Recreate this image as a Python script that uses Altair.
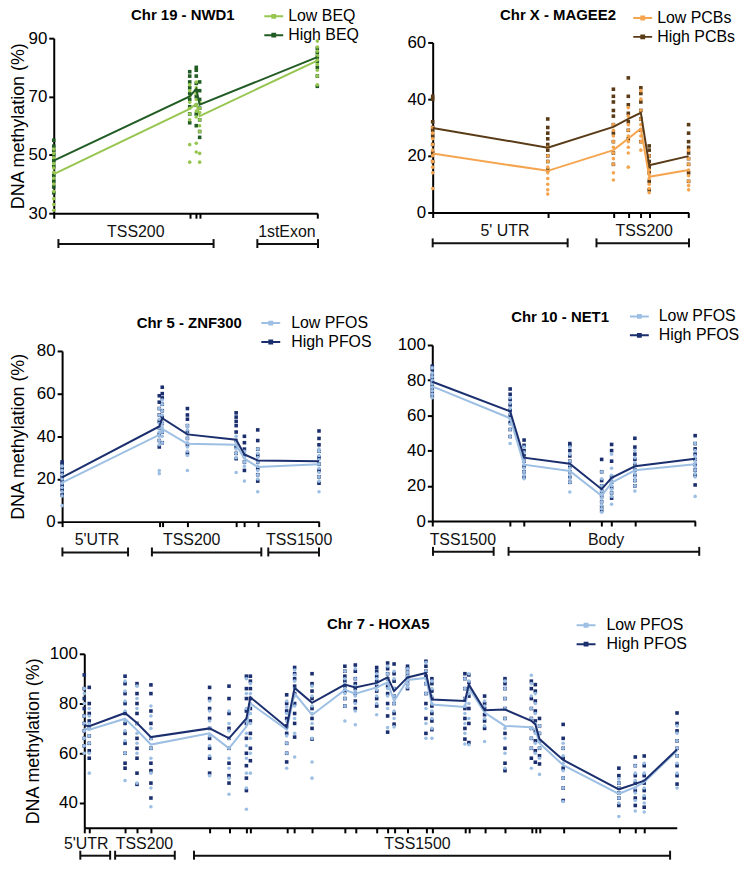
import altair as alt
import pandas as pd

FONT = "Liberation Sans"
YTITLE = "DNA methylation (%)"

# ---------------- Chr 19 - NWD1 ----------------
NWD1_GROUPS = ["Low BEQ", "High BEQ"]
NWD1_COLORS = ["#97c650", "#215c24"]
NWD1_POS = [0, 136.7, 143.3, 146.7, 265]
NWD1_LOW_MEAN = [43.4, 65.8, 67.5, 63.3, 82.3]
NWD1_HIGH_MEAN = [48.0, 70.0, 72.6, 67.2, 83.5]
NWD1_LOW_PTS = [
    [31, 33, 35, 37.5, 40, 42, 44, 45.5, 47, 49, 50.5, 52],
    [47.5, 53.5, 62, 64, 66, 68, 70, 72, 74],
    [51, 54, 63, 65, 67, 69, 71, 73, 75],
    [47.5, 50.5, 58, 60, 62, 64.5, 66, 68],
    [74, 77, 79, 81, 82.5, 84, 85.5, 87, 89],
]
NWD1_HIGH_PTS = [
    [37, 39, 41, 43, 46, 48, 50, 51.5, 53, 55],
    [61, 64, 66.5, 69, 71, 73, 75, 77, 78.5],
    [60, 64, 67, 70, 72, 74.5, 77, 79, 80],
    [56, 58, 62, 66, 69, 72, 75],
    [73.5, 77, 80, 82, 83.5, 85, 86.5],
]
NWD1_REGIONS = ["TSS200", "1stExon"]
NWD1_REG_START = [4.7, 204.7]
NWD1_REG_END = [160.7, 265.7]
NWD1_REG_LABEL = [82.5, 234.4]

# ---------------- Chr X - MAGEE2 ----------------
MAGEE2_GROUPS = ["Low PCBs", "High PCBs"]
MAGEE2_COLORS = ["#f5a54f", "#5a3b17"]
MAGEE2_POS = [0, 115.7, 181.7, 196.7, 209.3, 217.7, 257.3]
MAGEE2_LOW_MEAN = [20.8, 14.7, 22.0, 26.1, 29.6, 12.6, 15.0]
MAGEE2_HIGH_MEAN = [29.8, 22.9, 30.2, 33.0, 35.2, 16.7, 19.9]
MAGEE2_LOW_PTS = [
    [8.5, 14, 16, 18, 20, 22, 24, 26, 28, 30],
    [6.5, 8, 10, 12, 14, 16, 18, 20, 23],
    [11.5, 14, 17, 19, 21, 23, 25, 27, 29, 31],
    [16, 21, 23, 25, 27, 29, 31, 34, 37],
    [22, 25, 27, 29, 31, 33, 36, 40, 43],
    [7, 8.5, 10, 12, 13.5, 15, 17, 20],
    [8, 9.5, 11, 13, 15, 17, 19, 22],
]
MAGEE2_HIGH_PTS = [
    [18, 21, 24, 27, 29, 30, 32, 40, 41],
    [15, 18, 20, 22, 24, 26, 28, 30, 33],
    [17, 21, 25, 28, 31, 34, 36, 39, 41, 43.5],
    [26, 29, 32, 35, 38, 41, 47.5],
    [25, 29, 33, 36, 39, 42, 44],
    [8, 11, 14, 16, 18, 20, 22, 23.5],
    [11, 14, 17, 19, 21, 23, 25, 28, 31],
]
MAGEE2_REGIONS = ["5' UTR", "TSS200"]
MAGEE2_REG_START = [0, 164.7]
MAGEE2_REG_END = [135.7, 257.7]
MAGEE2_REG_LABEL = [72.7, 212.7]

# ---------------- Chr 5 - ZNF300 ----------------
PFOS_GROUPS = ["Low PFOS", "High PFOS"]
PFOS_COLORS = ["#9dbfe3", "#1b2f6e"]
ZNF300_POS = [0, 97.7, 100.7, 126, 175, 183.3, 196.7, 258.3]
ZNF300_LOW_MEAN = [18.3, 40.7, 43.5, 36.5, 36.0, 29.5, 25.6, 26.9]
ZNF300_HIGH_MEAN = [20.7, 44.6, 48.5, 40.9, 38.4, 31.5, 28.7, 28.3]
ZNF300_LOW_PTS = [
    [7.5, 12, 14, 16, 18, 20, 22, 24, 26],
    [22.5, 24, 36, 38, 40, 42, 44, 46, 48, 50, 53],
    [37, 40, 42, 44, 46, 48, 50, 52, 55, 57],
    [24, 31, 33, 35, 37, 39, 41, 43, 45],
    [23, 30, 32, 34, 36, 38, 40],
    [19, 26, 28, 30, 32, 33],
    [14, 20, 22, 24, 26, 28, 30, 32, 34],
    [14, 19, 21, 23, 25, 27, 29, 31, 33, 34],
]
ZNF300_HIGH_PTS = [
    [12.5, 15, 17, 19, 21, 23, 25, 27, 28],
    [35, 38, 41, 44, 47, 50, 53, 56, 59],
    [37, 42, 46, 49, 52, 55, 58, 60, 63],
    [32, 36, 39, 42, 45, 48, 50, 53],
    [29.5, 32, 35, 38, 42, 45, 47, 49, 51],
    [24, 28, 31, 34, 37, 40],
    [19, 22, 25, 28, 31, 34, 38, 43],
    [18, 21, 24, 27, 30, 33, 36, 39, 42.5],
]
ZNF300_REGIONS = ["5'UTR", "TSS200", "TSS1500"]
ZNF300_REG_START = [0.3, 90.3, 207.3]
ZNF300_REG_END = [66.3, 200.3, 258.3]
ZNF300_REG_LABEL = [35, 130.3, 238.3]

# ---------------- Chr 10 - NET1 ----------------
NET1_POS = [0, 78.3, 92.3, 138.3, 170.3, 180.3, 203.7, 264.3]
NET1_LOW_MEAN = [76.5, 58.4, 32.0, 28.4, 14.3, 21.8, 28.8, 32.2]
NET1_HIGH_MEAN = [79.1, 62.3, 36.0, 32.6, 18.1, 24.5, 31.1, 35.4]
NET1_LOW_PTS = [
    [70, 72, 74, 76, 78, 80, 82, 84, 87],
    [44, 48, 52, 55, 58, 61, 64, 67, 70],
    [24, 26, 28, 30, 32, 34, 36, 39, 42],
    [16.5, 22, 24, 26, 28, 30, 32, 34, 38, 42],
    [5, 7, 9, 11, 13, 15, 17, 20, 24, 28],
    [9.5, 14, 16, 18, 20, 22, 24, 26, 30, 38],
    [17, 20, 23, 25, 27, 29, 31, 33, 36, 40],
    [14, 25, 27, 29, 31, 33, 35, 37, 40, 44],
]
NET1_HIGH_PTS = [
    [71, 73, 75, 77, 79, 81, 83, 86, 88],
    [48, 52, 56, 60, 63, 66, 69, 72, 75],
    [25, 28, 31, 34, 37, 40, 43, 46],
    [22, 25, 28, 31, 34, 37, 40, 43, 44],
    [6, 8, 11, 14, 17, 20, 23, 28, 35],
    [13, 16, 19, 22, 25, 34, 40, 43.5],
    [20, 23, 26, 29, 32, 35, 38, 42, 47],
    [20.5, 26, 29, 32, 35, 38, 41, 44, 48.5],
]
NET1_REGIONS = ["TSS1500", "Body"]
NET1_REG_START = [0.7, 76.7]
NET1_REG_END = [61.7, 268.4]
NET1_REG_LABEL = [30.7, 174.7]

# ---------------- Chr 7 - HOXA5 ----------------
HOXA5_POS = [0, 5, 41, 53, 67, 126, 145.5, 163, 167, 203.5, 211.5, 229, 262, 272.5,
             294, 305, 311.5, 325, 343.5, 349.5, 382.7, 386.7, 402.5, 423, 449.5,
             453.5, 457.7, 481.5, 537.5, 554, 563, 596]
HOXA5_LOW_MEAN = [70, 69.5, 73.9, 69.3, 63.5, 68, 62, 70.7, 80, 69.5, 84, 75.4, 85.5,
                  84, 86.5, 88.5, 81, 89.5, 90.3, 79.6, 78.6, 86.3, 76.4, 71, 70.5,
                  69.5, 64, 55.2, 43.7, 46.4, 48.4, 61]
HOXA5_HIGH_MEAN = [71.3, 70.9, 76.2, 72.2, 66.5, 70, 66, 74, 82.5, 70.5, 86.3, 80.3,
                   87.6, 86.5, 88.3, 90.5, 85, 90.5, 92.3, 81.6, 81, 87.6, 77.3, 77.6,
                   73, 71.7, 65.7, 57.3, 45.5, 47.7, 49, 61.5]
HOXA5_HIGH_PTS = [
    [63, 66, 69, 72, 75, 78, 82, 86, 91.5],
    [58, 61, 64, 67, 70, 73, 76, 80, 86.5],
    [54, 56, 60, 64, 68, 72, 76, 80, 84, 88, 91],
    [47.5, 52, 58, 62, 66, 72, 76, 80, 84, 88],
    [42, 48, 53, 56, 62, 66, 72, 77, 84, 87.5],
    [52, 58, 62, 66, 70, 74, 78, 82, 86.5],
    [48, 51, 56, 62, 66, 70, 76, 82, 87],
    [45, 50, 55, 60, 66, 72, 77, 82, 86, 91],
    [57, 62, 68, 73, 78, 82, 86, 89, 91],
    [56.5, 60, 64, 68, 71, 74, 77, 80, 83.5],
    [66.5, 72, 76, 80, 84, 87, 90, 92, 94.5],
    [65.7, 70, 74, 78, 82, 85, 88, 92],
    [79, 82, 85, 87, 89, 91, 93, 95],
    [78, 81, 84, 86, 88, 90, 93, 95.5],
    [79, 82, 85, 87, 89, 91, 93, 94.5],
    [68.5, 75, 80, 84, 87, 90, 92, 94, 96.3],
    [71.7, 76, 80, 83, 86, 89, 92, 95.9],
    [86, 88, 89.5, 91, 92.5, 94, 95],
    [68, 74, 80, 84, 88, 91, 93, 95, 97],
    [69.5, 73, 76, 79, 82, 85, 88, 90],
    [65.7, 70, 74, 78, 82, 86, 90, 92],
    [64.3, 72, 78, 83, 86, 88.5, 91.5],
    [70, 73, 75.5, 78, 80, 83],
    [53, 56, 62, 68, 74, 78, 82, 86, 88, 90],
    [58, 62, 66, 70, 74, 78, 82, 86, 89],
    [56.4, 61, 65, 69, 73, 77, 81, 85, 87.6],
    [55.7, 59, 62, 65, 68, 71, 74],
    [41, 46, 50, 54, 58, 62, 66, 71.6],
    [39, 42, 44, 46, 48, 51, 54],
    [39, 42, 45, 48, 51, 55, 58.5],
    [38.3, 42, 45, 48, 51, 55, 58.9],
    [47.6, 51, 55, 59, 62, 65, 69, 72, 76.2],
]
HOXA5_LOW_PTS = [
    [60, 63, 66, 69, 72, 75, 80, 84, 86],
    [52, 60, 64, 67, 70, 72, 75, 78],
    [49, 60, 65, 69, 73, 77, 81, 85, 89],
    [48, 60, 64, 68, 72, 78, 82, 87],
    [38.5, 46, 52, 58, 62, 66, 70, 75, 79],
    [51, 59, 63, 67, 70, 73, 77, 81],
    [43.5, 50, 54, 58, 62, 66, 69, 72, 77],
    [37.5, 46, 52, 58, 63, 68, 73, 78, 84, 90],
    [52, 60, 66, 72, 76, 80, 84, 88],
    [54, 60, 64, 67, 70, 73, 76, 78.5, 81],
    [58.5, 68, 74, 79, 83, 86, 89, 91.5, 93.5],
    [50, 56.5, 66, 72, 76, 79, 83, 87],
    [73, 79, 82, 84, 86, 88, 90, 93],
    [71.5, 77, 80, 83, 85, 87, 90, 94],
    [75.5, 80, 83, 85.5, 88, 90, 92],
    [70.3, 78, 83, 86, 88, 90, 92, 95],
    [70.6, 74, 77, 80, 83, 86, 90, 93],
    [86.5, 88, 89.5, 91, 92.5, 94],
    [66, 72, 78, 84, 88, 90, 93, 96.5],
    [66, 70, 74, 77, 80, 83, 86, 89],
    [63.7, 68, 72, 76, 79, 82, 86, 90],
    [63.4, 74, 80, 84, 87, 89, 92],
    [64.7, 71, 74, 77, 79, 81],
    [54, 60, 66, 70, 74, 78, 82, 86, 89],
    [54, 62, 66, 70, 74, 78, 83, 88, 91.4],
    [60, 64, 68, 72, 76, 80, 84],
    [51.5, 58, 62, 65, 68, 71],
    [40.6, 46, 50, 53, 56, 59, 62, 64],
    [34.6, 40, 42, 44, 46, 48, 49.6],
    [36.8, 41, 44, 46, 49, 52, 55],
    [36.4, 40, 43, 46, 49, 52, 56],
    [46, 52, 56, 59, 62, 65, 68, 71],
]
HOXA5_REGIONS = ["5'UTR", "TSS200", "TSS1500"]
HOXA5_REG_START = [-4, 31, 110.3]
HOXA5_REG_END = [26, 91, 589]
HOXA5_REG_LABEL = [2, 60.5, 335]

LEGEND_PATH = "M-1,0H1M-0.15,-0.15H0.15V0.15H-0.15Z"


def points_frame(pos, pts):
    rows = [(p, v) for p, vals in zip(pos, pts) for v in vals]
    return pd.DataFrame(rows, columns=["pos", "value"])


def panel(pos, low_mean, high_mean, low_pts, high_pts, groups, colors,
          ydom, yvals, w, h, regions, reg_start, reg_end, reg_label,
          title, title_dx, title_y, leg_x, leg_y, leg_off, ytitle, ytitle_pad,
          bar_off=31, lab_off=19):
    xs = alt.Scale(domain=[0, w], nice=False, zero=False)
    ys = alt.Scale(domain=ydom, nice=False, zero=False)
    xaxis = alt.Axis(values=pos, labels=False, title=None, tickSize=5)
    if ytitle:
        yaxis = alt.Axis(values=yvals, title=ytitle, titlePadding=ytitle_pad)
    else:
        yaxis = alt.Axis(values=yvals, title=None)

    mean_df = pd.DataFrame({
        "pos": list(pos) + list(pos),
        "value": list(low_mean) + list(high_mean),
        "group": [groups[0]] * len(pos) + [groups[1]] * len(pos),
    })
    low_df = points_frame(pos, low_pts)
    high_df = points_frame(pos, high_pts)
    reg_df = pd.DataFrame({"name": regions, "s": reg_start, "e": reg_end, "lx": reg_label})
    cap_df = pd.DataFrame({"cx": list(reg_start) + list(reg_end)})
    title_df = pd.DataFrame({"t": [title]})

    X = alt.X("pos:Q", scale=xs, axis=xaxis)
    Y = alt.Y("value:Q", scale=ys, axis=yaxis)

    high_pts_l = alt.Chart(high_df).mark_square(size=13, color=colors[1], opacity=1).encode(x=X, y=Y)
    low_pts_l = alt.Chart(low_df).mark_circle(size=13, color=colors[0], opacity=1).encode(x=X, y=Y)
    lines = alt.Chart(mean_df).mark_line(strokeWidth=2).encode(
        x=X, y=Y,
        color=alt.Color("group:N", scale=alt.Scale(domain=groups, range=colors),
                        legend=alt.Legend(title=None, orient="none", legendX=leg_x, legendY=leg_y,
                                          symbolType=LEGEND_PATH, symbolSize=361,
                                          symbolStrokeWidth=2, labelFontSize=16, labelFont=FONT,
                                          labelColor="black", labelOffset=leg_off, rowPadding=0,
                                          padding=0)),
        detail="group:N",
    )
    bar = alt.Chart(reg_df).mark_rule(strokeWidth=2, color="#111111").encode(
        x=alt.X("s:Q", scale=xs, axis=xaxis), x2="e:Q", y=alt.value(h + bar_off))
    caps = alt.Chart(cap_df).mark_rule(strokeWidth=2, color="#111111").encode(
        x=alt.X("cx:Q", scale=xs, axis=xaxis), y=alt.value(h + bar_off - 5),
        y2=alt.value(h + bar_off + 4))
    labels = alt.Chart(reg_df).mark_text(fontSize=16, font=FONT, color="#111111",
                                         baseline="middle", align="center").encode(
        x=alt.X("lx:Q", scale=xs, axis=xaxis), y=alt.value(h + lab_off), text="name:N")
    ttl = alt.Chart(title_df).mark_text(fontSize=15, font=FONT, fontWeight="bold", color="black",
                                        align="left", baseline="middle").encode(
        x=alt.value(title_dx), y=alt.value(title_y), text="t:N")

    return alt.layer(high_pts_l, low_pts_l, lines, bar, caps, labels, ttl).properties(
        width=w, height=h)


def spacer(w=1, h=1):
    return alt.Chart(pd.DataFrame({"a": [0]})).mark_point(opacity=0).encode(
        x=alt.value(0), y=alt.value(0)).properties(width=w, height=h)


def indep(c):
    return c.resolve_scale(color="independent").resolve_legend(color="independent")


p1 = panel(NWD1_POS, NWD1_LOW_MEAN, NWD1_HIGH_MEAN, NWD1_LOW_PTS, NWD1_HIGH_PTS,
           NWD1_GROUPS, NWD1_COLORS, [30, 90], [30, 50, 70, 90], 265, 176,
           NWD1_REGIONS, NWD1_REG_START, NWD1_REG_END, NWD1_REG_LABEL,
           "Chr 19 - NWD1", 77.7, -23, 210.7, -32.5, 4, YTITLE, 0.4)
p2 = panel(MAGEE2_POS, MAGEE2_LOW_MEAN, MAGEE2_HIGH_MEAN, MAGEE2_LOW_PTS, MAGEE2_HIGH_PTS,
           MAGEE2_GROUPS, MAGEE2_COLORS, [0, 60], [0, 20, 40, 60], 257.4, 171,
           MAGEE2_REGIONS, MAGEE2_REG_START, MAGEE2_REG_END, MAGEE2_REG_LABEL,
           "Chr X - MAGEE2", 67.7, -27.3, 200.7, -35.1, 4, None, 0)
p3 = panel(ZNF300_POS, ZNF300_LOW_MEAN, ZNF300_HIGH_MEAN, ZNF300_LOW_PTS, ZNF300_HIGH_PTS,
           PFOS_GROUPS, PFOS_COLORS, [0, 80], [0, 20, 40, 60, 80], 258.5, 171.6,
           ZNF300_REGIONS, ZNF300_REG_START, ZNF300_REG_END, ZNF300_REG_LABEL,
           "Chr 5 - ZNF300", 75, -28.4, 199.3, -38.5, 10, YTITLE, 8.8)
p4 = panel(NET1_POS, NET1_LOW_MEAN, NET1_HIGH_MEAN, NET1_LOW_PTS, NET1_HIGH_PTS,
           PFOS_GROUPS, PFOS_COLORS, [0, 100], [0, 20, 40, 60, 80, 100], 264.4, 177,
           NET1_REGIONS, NET1_REG_START, NET1_REG_END, NET1_REG_LABEL,
           "Chr 10 - NET1", 79.4, -28.4, 197.7, -39.2, 9, None, 0)
p5 = panel(HOXA5_POS, HOXA5_LOW_MEAN, HOXA5_HIGH_MEAN, HOXA5_LOW_PTS, HOXA5_HIGH_PTS,
           PFOS_GROUPS, PFOS_COLORS, [30, 100], [40, 60, 80, 100], 595.7, 175,
           HOXA5_REGIONS, HOXA5_REG_START, HOXA5_REG_END, HOXA5_REG_LABEL,
           "Chr 7 - HOXA5", 244, -29.7, 494, -39.2, 10, YTITLE, 7,
           bar_off=28, lab_off=16.5)

row1 = indep(alt.hconcat(p1, indep(alt.vconcat(spacer(), p2, spacing=3.3, bounds="flush")),
                         spacing=116, bounds="flush"))
row2_inner = indep(alt.hconcat(indep(alt.vconcat(spacer(), p3, spacing=5, bounds="flush")), p4,
                               spacing=372.2, bounds="flush"))
row2 = indep(alt.hconcat(spacer(), row2_inner, spacing=7.4, bounds="flush"))
row3 = indep(alt.hconcat(spacer(), p5, spacing=29.7, bounds="flush"))

chart = indep(alt.vconcat(row1, row2, row3, spacing=56.5)).properties(
    padding={"left": 1, "top": -5, "right": 0, "bottom": 0}
).configure_view(stroke=None).configure_axis(
    grid=False, domainColor="black", domainWidth=2, tickColor="black", tickWidth=2,
    tickSize=5, labelFont=FONT, labelFontSize=17, labelColor="black", labelPadding=2,
    titleFont=FONT, titleFontSize=18, titleFontWeight="normal", titleColor="black"
)

chart.save("out.html", embed_options={"renderer": "svg", "actions": False})
